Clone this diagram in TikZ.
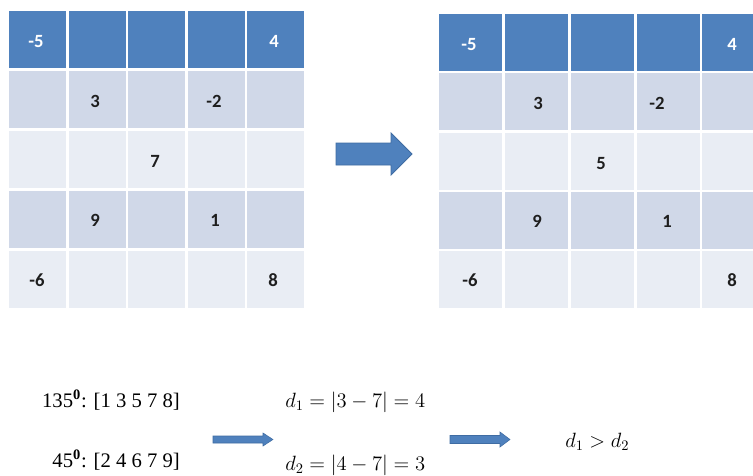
\RequirePackage{fix-cm}
\documentclass[tikz,border=0pt]{standalone}
\usepackage{fontspec}
\setmainfont{Liberation Serif}
\newfontfamily\cellfont{Carlito}
\definecolor{hdrblue}{HTML}{4F81BD}
\definecolor{bandA}{HTML}{D0D8E8}
\definecolor{bandB}{HTML}{E9EDF4}
\definecolor{arrowline}{HTML}{3F6CA3}
\definecolor{numdark}{HTML}{1E1E1E}
\tikzset{
  hdrcell/.style={fill=hdrblue},
  acell/.style={fill=bandA},
  bcell/.style={fill=bandB},
  hnum/.style={anchor=base, inner sep=0pt, text=white, font=\cellfont\bfseries\fontsize{14}{16}\selectfont},
  bnum/.style={anchor=base, inner sep=0pt, text=numdark, font=\cellfont\bfseries\fontsize{14}{16}\selectfont},
  blockarrow/.style={fill=hdrblue, draw=arrowline, line width=0.6pt, line join=miter},
  eqtext/.style={inner sep=0pt, text=black, font=\fontsize{15.5}{18}\selectfont},
}
\begin{document}
\begin{tikzpicture}[x=0.75pt, y=-0.75pt]
\clip (0,0) rectangle (753,475);
\fill[white] (0,0) rectangle (753,475);
% left table
\foreach \x in {9,68.6,128.2,187.8,247.4} {
  \foreach \y/\st in {11/hdrcell,71/acell,131/bcell,191/acell,251/bcell} {
    \fill[\st] (\x,\y) rectangle ++(57,57);
  }
}
% right table
\foreach \x in {439,505,571,637,702} {
  \foreach \y/\st in {14/hdrcell,73/acell,133/bcell,192/acell,251/bcell} {
    \fill[\st] (\x,\y) rectangle ++(63,56.5);
  }
}
% left numbers
\node[hnum] (la1) at (36,47) {-5};
\node[hnum] (la5) at (274,47) {4};
\node[bnum] (lb2) at (95,107) {3};
\node[bnum] (lb4) at (214,107) {-2};
\node[bnum] (lc3) at (155,167) {7};
\node[bnum] (ld2) at (95,226) {9};
\node[bnum] (ld4) at (215,226) {1};
\node[bnum] (le1) at (37,286) {-6};
\node[bnum] (le5) at (273,286) {8};
% right numbers
\node[hnum] (ra1) at (469,50) {-5};
\node[hnum] (ra5) at (732,50) {4};
\node[bnum] (rb2) at (538,109) {3};
\node[bnum] (rb4) at (657,109) {-2};
\node[bnum] (rc3) at (601,169) {5};
\node[bnum] (rd2) at (537,227) {9};
\node[bnum] (rd4) at (667,227) {1};
\node[bnum] (re1) at (470,286) {-6};
\node[bnum] (re5) at (732,286) {8};
% big arrow
\draw[blockarrow] (336,143) -- (391,143) -- (391,133) -- (412,154) -- (391,175) -- (391,165) -- (336,165) -- cycle;
% bottom text
\node[eqtext, anchor=base east] (t135) at (180,407) {135$^{\mathbf{0}}$: [1 3 5 7 8]};
\node[eqtext, anchor=base east] (t45) at (180,467) {45$^{\mathbf{0}}$: [2 4 6 7 9]};
\node[eqtext, anchor=base west] (d1) at (285,407) {$d_1 = |3-7| = 4$};
\node[eqtext, anchor=base west] (d2) at (285,470) {$d_2 = |4-7| = 3$};
\node[eqtext, anchor=base west] (cmp) at (565,447) {$d_1 > d_2$};
% small arrows
\draw[blockarrow, line width=0.4pt] (213,436) -- (263,436) -- (263,433) -- (273,439.5) -- (263,446) -- (263,443) -- (213,443) -- cycle;
\draw[blockarrow, line width=0.4pt] (450,435.5) -- (500,435.5) -- (500,432) -- (510,439.5) -- (500,447) -- (500,443.5) -- (450,443.5) -- cycle;
\end{tikzpicture}
\end{document}
